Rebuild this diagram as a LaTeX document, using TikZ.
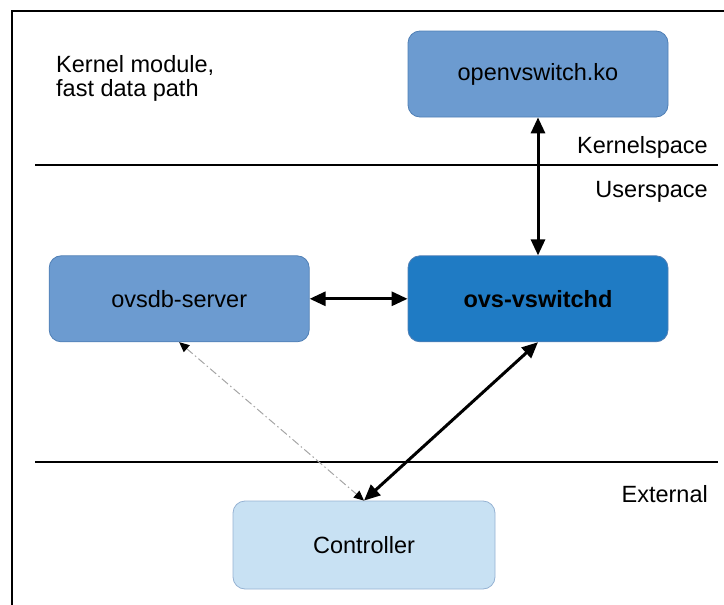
\documentclass[tikz,border=0pt]{standalone}
\usepackage{fontspec}
\setmainfont{Liberation Sans}
\usetikzlibrary{positioning,arrows.meta}

\definecolor{kofill}{HTML}{6C9BD0}
\definecolor{vsfill}{HTML}{1F7BC4}
\definecolor{ctfill}{HTML}{C8E1F3}
\definecolor{boxline}{HTML}{4F7FB5}

\tikzset{
  box/.style={draw=boxline, line width=0.8pt, rounded corners=12pt,
    minimum width=260pt, minimum height=86pt,
    font=\fontsize{23.5}{26}\selectfont},
  lbl/.style={font=\fontsize{23.5}{24}\selectfont, inner sep=0pt},
  link/.style={line width=3pt,
    {Triangle[length=16pt,width=14pt]}-{Triangle[length=16pt,width=14pt]}},
  ctl/.style={gray!70, line width=1pt, dash pattern=on 8pt off 3pt on 1.5pt off 3pt,
    {Triangle[length=10pt,width=9pt,color=black]}-{Triangle[length=10pt,width=9pt,color=black]}},
  sep/.style={line width=2.8pt}
}

\begin{document}
\begin{tikzpicture}[x=1pt,y=-1pt]
  \useasboundingbox (0,0) rectangle (724,605);
  \draw [line width=1.4pt] (12,605) -- (12,11) -- (724,11);

  \node (ko)    [box, fill=kofill] at (538,74) {openvswitch.ko};
  \node (vs)    [box, fill=vsfill, below=138pt of ko] {\bfseries ovs-vswitchd};
  \node (db)    [box, fill=kofill, left=98pt of vs] {ovsdb-server};
  \node (ctrl)  [box, fill=ctfill, draw=boxline!60, minimum width=262pt, minimum height=88pt] at (364,545) {Controller};

  \node (kmod)  [lbl, anchor=base west, align=left] at (56,96) {Kernel module,\\fast data path};
  \node (kspc)  [lbl, anchor=base east] at (708,153) {Kernelspace};
  \node (uspc)  [lbl, anchor=base east] at (708,197) {Userspace};
  \node (ext)   [lbl, anchor=base east] at (708,502) {External};

  \draw [sep] (35,165) -- (718,165);
  \draw [sep] (35,462) -- (718,462);

  \draw [link] (ko.south) to (vs.north);
  \draw [link] (db.east)  to (vs.west);
  \draw [link] (vs.south) to (ctrl.north);
  \draw [ctl]  (db.south) to (ctrl.north);
\end{tikzpicture}
\end{document}
